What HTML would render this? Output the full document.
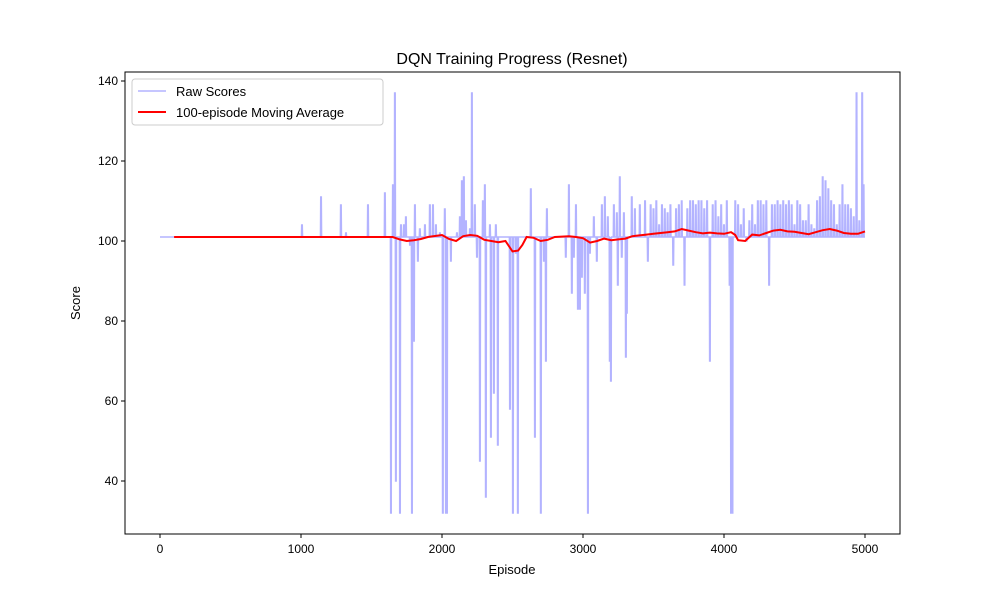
<!DOCTYPE html>
<html><head><meta charset="utf-8"><style>
body{margin:0;background:#fff;}
svg text{font-family:"Liberation Sans","DejaVu Sans",sans-serif;}
</style></head><body>
<svg id="chart" width="1000" height="600" xmlns="http://www.w3.org/2000/svg">
<rect width="1000" height="600" fill="#fff"/>
<text x="512" y="64" text-anchor="middle" font-size="16">DQN Training Progress (Resnet)</text>
<g id="plot"></g>
<rect x="125" y="72" width="775" height="462" fill="none" stroke="#000" stroke-width="1"/>
<g id="axes"></g>
<text x="512" y="574" text-anchor="middle" font-size="13">Episode</text>
<text x="80" y="303" text-anchor="middle" font-size="13" transform="rotate(-90 80 303)">Score</text>
<g>
<rect x="132" y="79" width="251" height="46" rx="3" fill="#fff" fill-opacity="0.8" stroke="#ccc"/>
<line x1="138" y1="91" x2="166" y2="91" stroke="#b3b3ff" stroke-width="1.5"/>
<text x="176" y="96" font-size="13">Raw Scores</text>
<line x1="138" y1="112" x2="166" y2="112" stroke="#f00" stroke-width="2"/>
<text x="176" y="117" font-size="13">100-episode Moving Average</text>
</g>
</svg>
<script>
const xTicks=[0,1000,2000,3000,4000,5000];
const yTicks=[40,60,80,100,120,140];
const baseline=101;
const spikeEpisodes=[1007,1142,1283,1319,1475,1595,1638,1652,1666,1673,1702,1709,1730,1744,1773,1787,1801,1808,1829,1843,1879,1914,1936,1957,1985,2006,2020,2028,2035,2063,2106,2127,2141,2155,2170,2198,2212,2233,2248,2269,2290,2304,2311,2340,2347,2368,2382,2396,2482,2503,2524,2538,2630,2659,2701,2723,2737,2744,2878,2900,2921,2935,2950,2964,2978,2992,3013,3035,3049,3077,3098,3134,3155,3176,3190,3198,3219,3240,3247,3261,3275,3290,3304,3311,3346,3368,3403,
3440,3460,3480,3500,3520,3540,3560,3580,3600,3620,3640,3660,3680,3700,3720,3740,3760,3780,3800,3820,3840,3860,3880,3900,3920,3940,3960,3980,4000,4020,4040,4050,4060,4080,4100,4120,4140,4160,4180,4200,4220,4240,4260,4280,4300,4320,4340,4360,4380,4400,4420,4440,4460,4480,4500,4520,4540,4560,4580,4600,4620,4640,4660,4680,4700,4720,4740,4760,4780,4800,4820,4840,4860,4880,4900,4920,4940,4960,4980,4990];
const spikeValues=[104,111,109,102,109,112,32,114,137,40,32,104,104,106,99,32,75,109,95,103,104,109,109,104,102,32,108,32,32,95,102,106,115,116,105,103,137,109,96,45,110,114,36,104,51,62,104,49,58,32,97,32,113,51,32,95,70,108,96,114,87,96,109,83,83,91,87,32,97,106,95,109,111,106,70,65,109,107,89,116,96,107,71,82,111,108,109,
110,95,109,108,110,104,109,108,107,109,94,108,109,110,89,108,110,110,109,110,110,108,110,70,109,110,106,109,104,110,89,32,32,110,109,104,108,100,105,109,104,110,110,109,110,89,109,109,110,109,110,109,110,109,104,110,109,105,105,109,104,103,110,111,116,115,113,110,109,104,109,114,109,109,108,106,137,105,137,114];
const maEpisodes=[100,1000,1600,1650,1700,1750,1800,1850,1900,2000,2050,2100,2150,2200,2250,2300,2350,2400,2450,2500,2540,2570,2600,2650,2700,2750,2800,2900,2950,3000,3050,3100,3150,3200,3250,3300,3350,3400,3450,3500,3600,3650,3700,3750,3800,3850,3900,3950,4000,4050,4080,4100,4150,4200,4250,4300,4350,4400,4450,4500,4550,4600,4650,4700,4750,4800,4850,4900,4950,5000];
const maValues=[101,101,101,101,100.4,100,100.2,100.5,101,101.5,100.5,100,101.2,101.5,101.3,100.3,100,99.7,100,97.4,97.6,99,101,100.8,100,100.3,101,101.2,101,100.7,99.6,100,100.6,100.2,100.4,100.6,101.2,101.4,101.6,101.8,102.2,102.4,103,102.6,102.2,101.9,102.1,101.9,101.8,102.2,101.5,100.2,100,101.6,101.4,102,102.6,102.8,102.4,102.3,102,101.7,102.2,102.7,103,102.6,102,101.8,101.8,102.4];
const X=e=>160+e*0.141, Y=v=>481-(v-40)*4;
const NS="http://www.w3.org/2000/svg";
const plot=document.getElementById('plot'), axes=document.getElementById('axes');
function mk(tag,attrs,parent){const el=document.createElementNS(NS,tag);for(const k in attrs)el.setAttribute(k,attrs[k]);parent.appendChild(el);return el;}
let pts=[[0,baseline]];
for(let i=0;i<spikeEpisodes.length;i++){const e=spikeEpisodes[i];pts.push([e-4,baseline],[e-2,spikeValues[i]],[e+2,spikeValues[i]],[e+4,baseline]);}
pts.push([5000,baseline]);
const raw=mk('path',{d:'M'+pts.map(p=>X(p[0]).toFixed(2)+','+Y(p[1]).toFixed(2)).join('L'),fill:'none',stroke:'#b3b3ff','stroke-width':1.5},plot);


const ma=mk('path',{d:'M'+maEpisodes.map((e,i)=>X(e).toFixed(2)+','+Y(maValues[i]).toFixed(2)).join('L'),fill:'none',stroke:'#f00','stroke-width':2},plot);


xTicks.forEach(t=>{
 mk('line',{x1:X(t),x2:X(t),y1:534,y2:538,stroke:'#000'},axes);
 const tx=mk('text',{x:X(t),y:553,'text-anchor':'middle','font-size':12},axes);tx.textContent=t;
 
 
});
yTicks.forEach(t=>{
 mk('line',{x1:121,x2:125,y1:Y(t),y2:Y(t),stroke:'#000'},axes);
 const tx=mk('text',{x:118,y:Y(t)+4,'text-anchor':'end','font-size':12},axes);tx.textContent=t;
 
 
});
</script>
</body></html>
